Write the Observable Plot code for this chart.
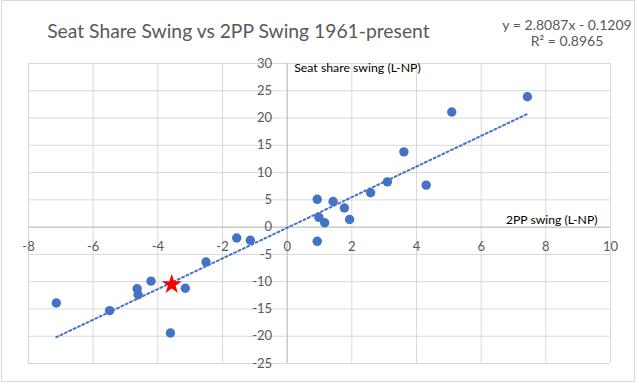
<!DOCTYPE html>
<html><head><meta charset="utf-8">
<script src="https://cdn.jsdelivr.net/npm/d3@7"></script>
<script src="https://cdn.jsdelivr.net/npm/@observablehq/plot@0.6"></script>
<style>
body{margin:0;background:#fff}
#chart{position:relative;width:639px;height:384px;overflow:hidden}
#border{position:absolute;left:1px;top:0px;width:632px;height:380px;border:1px solid #d9d9d9;pointer-events:none}
</style>
</head><body><div id="chart"><div id="border"></div></div>
<script>
// 2PP swing (L-NP) and seat share swing (L-NP), 1961-present
const twoPPSwing = [-7.14, -5.49, -4.64, -4.61, -4.21, -3.61, -3.15, -2.51, -1.56, -1.14,
                    0.93, 0.93, 0.98, 1.16, 1.42, 1.77, 1.93, 2.58, 3.10, 3.61, 4.30, 5.09, 7.43];
const seatSwing  = [-13.9, -15.3, -11.3, -12.4, -9.9, -19.4, -11.2, -6.4, -2.0, -2.4,
                    5.1, -2.6, 1.8, 0.8, 4.7, 3.5, 1.4, 6.3, 8.3, 13.8, 7.7, 21.1, 23.9];
// highlighted point (red star)
const star2PP = [-3.57];
const starSeat = [-10.5];
// trendline (Excel linear fit)
const trendSlope = 2.8087;
const trendIntercept = -0.1209;
const trendLabel = ["y = 2.8087x - 0.1209", "R² = 0.8965"];
// ticks
const xTicks = [-8, -6, -4, -2, 0, 2, 4, 6, 8, 10];
const yTicks = [-25, -20, -15, -10, -5, 0, 5, 10, 15, 20, 25, 30];
const titleText = "Seat Share Swing vs 2PP Swing 1961-present";
const yTitle = "Seat share swing (L-NP)";
const xTitle = "2PP swing (L-NP)";

const pts = twoPPSwing.map((x, i) => ({x, y: seatSwing[i]}));
const starPts = star2PP.map((x, i) => ({x, y: starSeat[i]}));
const xr = d3.extent(twoPPSwing);
const trend = xr.map(x => ({x, y: trendSlope * x + trendIntercept}));

const font = "Lato, 'Open Sans', sans-serif";
const plot = Plot.plot({
  width: 639, height: 384,
  marginLeft: 28, marginRight: 29, marginTop: 63, marginBottom: 21,
  x: {domain: [-8, 10], axis: null},
  y: {domain: [-25, 30], axis: null},
  style: {fontFamily: font, background: "transparent", overflow: "visible"},
  marks: [
    Plot.ruleX(xTicks, {x: d => d, stroke: "#d9d9d9", strokeOpacity: 1, strokeWidth: 1}),
    Plot.ruleY(yTicks, {y: d => d, stroke: "#d9d9d9", strokeOpacity: 1, strokeWidth: 1}),
    Plot.ruleX([0], {stroke: "#bfbfbf", strokeOpacity: 1}),
    Plot.ruleY([0], {stroke: "#bfbfbf", strokeOpacity: 1}),
    Plot.text(yTicks, {x: 0, y: d => d, text: d => String(d), dx: -15, textAnchor: "end", fill: "#595959", fontSize: 13}),
    Plot.text(xTicks, {x: d => d, y: 0, text: d => String(d), dy: 20, fill: "#595959", fontSize: 13}),
    Plot.text([yTitle], {x: 0, y: 30, text: d => d, dx: 7, dy: 4.5, textAnchor: "start", fill: "#000", fontSize: 12.3}),
    Plot.text([xTitle], {x: 10, y: 0, text: d => d, dx: -13, dy: -7, textAnchor: "end", fill: "#000", fontSize: 12.2}),
    Plot.line(trend, {x: "x", y: "y", stroke: "#4472C4", strokeWidth: 2, strokeDasharray: "2 2.8"}),
    Plot.dot(pts, {x: "x", y: "y", r: 4.7, fill: "#4472C4", stroke: "none"}),
    Plot.dot(starPts, {x: "x", y: "y", r: 6.3, symbol: "star", fill: "#ff0000", stroke: "none"}),
    Plot.text([titleText], {frameAnchor: "top-left", text: d => d, dx: 18.7, dy: -25.3, lineAnchor: "bottom", textAnchor: "start", fill: "#595959", fontSize: 19.3}),
    Plot.text([trendLabel[0]], {frameAnchor: "top-left", text: d => d, dx: 538.5, dy: -33.5, lineAnchor: "bottom", textAnchor: "middle", fill: "#595959", fontSize: 14}),
    Plot.text([trendLabel[1]], {frameAnchor: "top-left", text: d => d, dx: 538.5, dy: -17.3, lineAnchor: "bottom", textAnchor: "middle", fill: "#595959", fontSize: 14})
  ]
});
document.getElementById("chart").prepend(plot);
</script>
</body></html>
